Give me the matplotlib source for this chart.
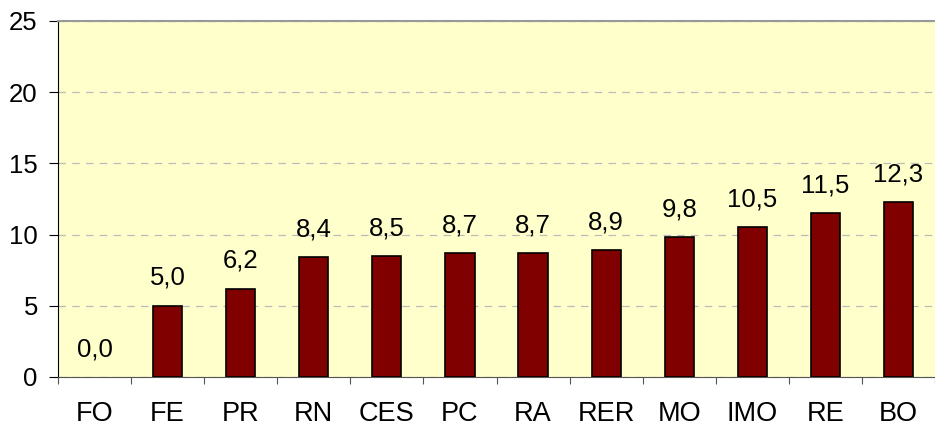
import matplotlib.pyplot as plt
import numpy as np

plt.rcParams['font.family'] = ['Liberation Sans', 'DejaVu Sans']

categories = ["FO", "FE", "PR", "RN", "CES", "PC", "RA", "RER", "MO", "IMO", "RE", "BO"]
values = [0.0, 5.0, 6.2, 8.4, 8.5, 8.7, 8.7, 8.9, 9.8, 10.5, 11.5, 12.3]

fig = plt.figure(figsize=(9.35, 4.26), dpi=100)
ax = fig.add_axes([58 / 935, 49 / 426, 877 / 935, 356 / 426])
ax.set_facecolor("#FFFFCC")

x = np.arange(len(categories))
# empty bars get no outline
edge_w = [1.2 if v > 0 else 0 for v in values]
ax.bar(x, values, width=0.40, color="#800000", edgecolor="black", linewidth=edge_w, zorder=3)

for xi, v in zip(x, values):
    ax.annotate(f"{v:.1f}".replace(".", ","), (xi, v), xytext=(0, 15),
                textcoords="offset points", ha="center", va="baseline", fontsize=18.5)

ax.set_xlim(-0.5, len(categories) - 0.5)
ax.set_ylim(0, 25)
ax.set_yticks(range(0, 26, 5))
ax.yaxis.grid(True, linestyle=(0, (6, 5)), color="#BBBBBB", linewidth=0.9, zorder=0)

# ticks sit between categories, labels centred under bars
ax.set_xticks(np.arange(-0.5, len(categories), 1.0))
ax.set_xticklabels([])
ax.set_xticks(x, minor=True)
ax.set_xticklabels(categories, minor=True)
ax.tick_params(axis="x", which="minor", length=0, pad=17, labelsize=19.5)
ax.tick_params(axis="x", which="major", length=5, direction="out", color="#555555")
ax.tick_params(axis="y", length=6.5, direction="out", labelsize=18.5, pad=8)

ax.spines["top"].set_color("#999999")
ax.spines["top"].set_linewidth(1.5)
ax.spines["right"].set_visible(False)
ax.spines["left"].set_color("black")
ax.spines["bottom"].set_color("#555555")

fig.savefig("out.png", dpi=100)
